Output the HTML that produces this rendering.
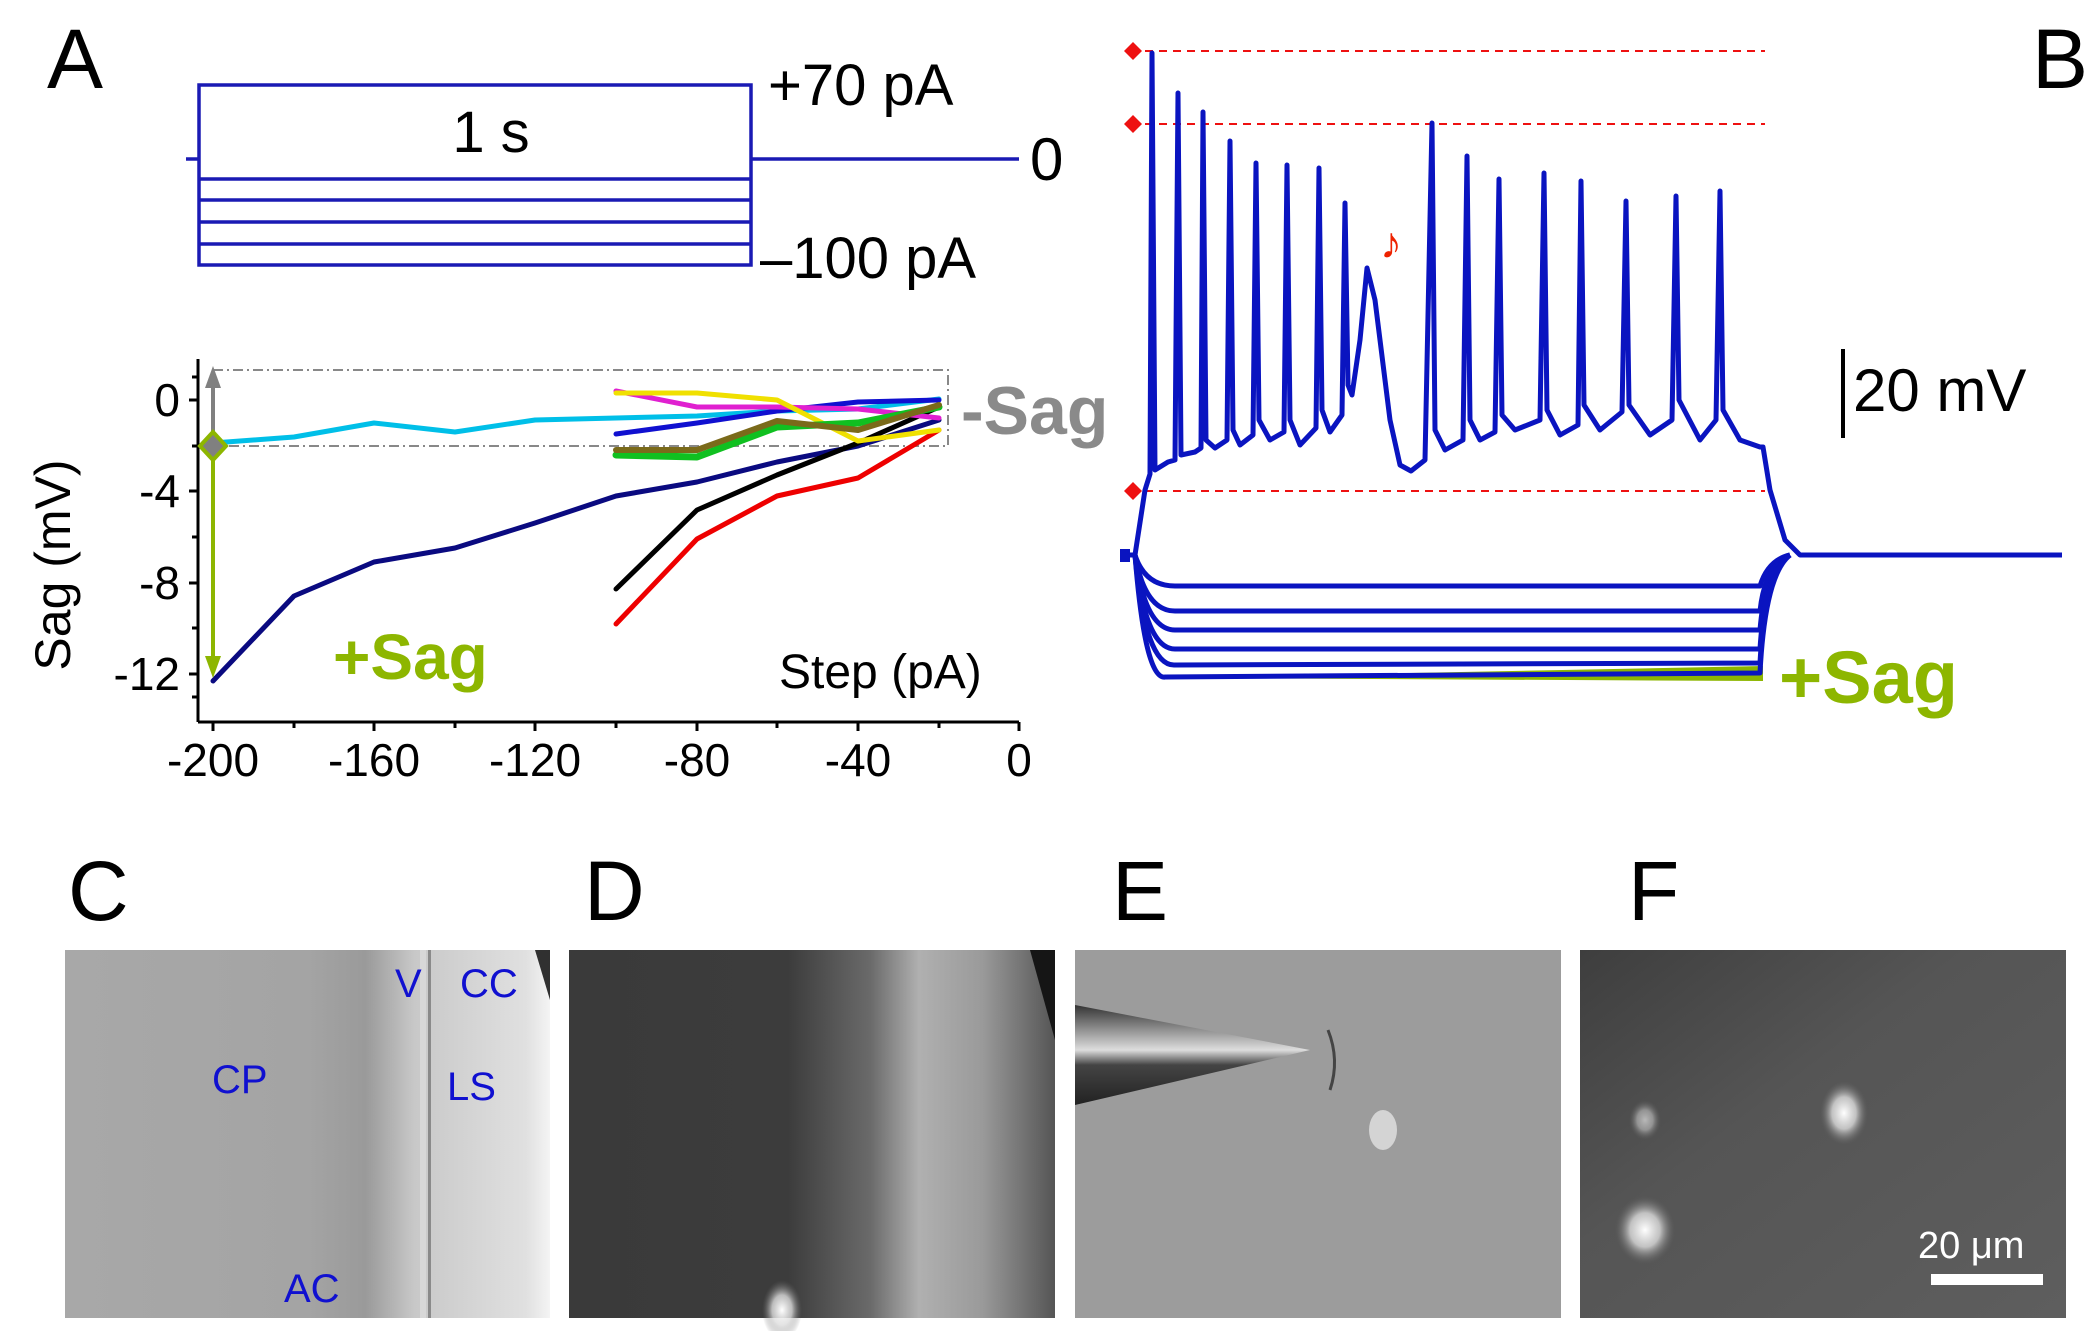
<!DOCTYPE html>
<html><head><meta charset="utf-8"><style>
html,body{margin:0;padding:0;background:#fff}
svg{display:block}
text{font-family:"Liberation Sans",Arial,sans-serif}
</style></head><body>
<svg width="2100" height="1331" viewBox="0 0 2100 1331" xmlns="http://www.w3.org/2000/svg">
<defs>
<linearGradient id="gC" x1="0" x2="1" y1="0" y2="0">
<stop offset="0" stop-color="#a8a8a8"/><stop offset="0.5" stop-color="#a4a4a4"/><stop offset="0.62" stop-color="#9a9a9a"/><stop offset="0.72" stop-color="#c8c8c8"/><stop offset="0.95" stop-color="#e0e0e0"/><stop offset="1" stop-color="#f4f4f4"/>
</linearGradient>
<linearGradient id="gD" x1="0" x2="1" y1="0" y2="0">
<stop offset="0" stop-color="#3a3a3a"/><stop offset="0.45" stop-color="#3c3c3c"/><stop offset="0.62" stop-color="#6a6a6a"/><stop offset="0.72" stop-color="#b0b0b0"/><stop offset="0.85" stop-color="#9a9a9a"/><stop offset="1" stop-color="#555"/>
</linearGradient>
<radialGradient id="spot"><stop offset="0" stop-color="#fff"/><stop offset="0.5" stop-color="#ddd" stop-opacity="0.8"/><stop offset="1" stop-color="#666" stop-opacity="0"/></radialGradient>
<linearGradient id="pip" x1="0" x2="0" y1="0" y2="1">
<stop offset="0" stop-color="#333"/><stop offset="0.45" stop-color="#ddd"/><stop offset="0.6" stop-color="#444"/><stop offset="1" stop-color="#222"/>
</linearGradient>
<linearGradient id="gF" x1="0" x2="1" y1="0" y2="1">
<stop offset="0" stop-color="#3e3e3e"/><stop offset="0.4" stop-color="#555"/><stop offset="1" stop-color="#5e5e5e"/>
</linearGradient>
</defs>

<text x="47" y="88" font-size="84">A</text>
<g stroke="#1a1ab4" stroke-width="3.5" fill="none">
<line x1="186" y1="159" x2="199" y2="159"/>
<rect x="199" y="85" width="552" height="180"/>
<line x1="751" y1="159" x2="1019" y2="159"/>
<line x1="199" y1="179" x2="751" y2="179"/>
<line x1="199" y1="200" x2="751" y2="200"/>
<line x1="199" y1="222" x2="751" y2="222"/>
<line x1="199" y1="244" x2="751" y2="244"/>
</g>
<text x="491" y="152" font-size="58" text-anchor="middle">1 s</text>
<text x="768" y="105" font-size="58">+70 pA</text>
<text x="1030" y="180" font-size="60">0</text>
<text x="760" y="278" font-size="58">–100 pA</text>

<g stroke="#000" stroke-width="3" fill="none">
<line x1="198" y1="359" x2="198" y2="722"/>
<line x1="198" y1="722" x2="1019" y2="722"/>
<line x1="213" y1="722" x2="213" y2="731"/><line x1="294" y1="722" x2="294" y2="728"/>
<line x1="374" y1="722" x2="374" y2="731"/><line x1="455" y1="722" x2="455" y2="728"/>
<line x1="535" y1="722" x2="535" y2="731"/><line x1="616" y1="722" x2="616" y2="728"/>
<line x1="697" y1="722" x2="697" y2="731"/><line x1="777" y1="722" x2="777" y2="728"/>
<line x1="858" y1="722" x2="858" y2="731"/><line x1="939" y1="722" x2="939" y2="728"/>
<line x1="1019" y1="722" x2="1019" y2="731"/>
<line x1="189" y1="400" x2="198" y2="400"/><line x1="192" y1="446" x2="198" y2="446"/>
<line x1="189" y1="491" x2="198" y2="491"/><line x1="192" y1="537" x2="198" y2="537"/>
<line x1="189" y1="583" x2="198" y2="583"/><line x1="192" y1="628" x2="198" y2="628"/>
<line x1="189" y1="674" x2="198" y2="674"/><line x1="192" y1="377" x2="198" y2="377"/><line x1="192" y1="697" x2="198" y2="697"/>
</g>
<g font-size="46" text-anchor="middle">
<text x="213" y="776">-200</text><text x="374" y="776">-160</text><text x="535" y="776">-120</text>
<text x="697" y="776">-80</text><text x="858" y="776">-40</text><text x="1019" y="776">0</text>
</g>
<g font-size="46" text-anchor="end">
<text x="180" y="416">0</text><text x="180" y="507">-4</text><text x="180" y="599">-8</text><text x="180" y="690">-12</text>
</g>
<text transform="translate(70,565) rotate(-90)" font-size="50" text-anchor="middle">Sag (mV)</text>
<text x="779" y="688" font-size="48">Step (pA)</text>
<rect x="213" y="370" width="735" height="76" fill="none" stroke="#888" stroke-width="2" stroke-dasharray="10,4,2,4"/>

<g fill="none" stroke-width="5" stroke-linejoin="round" stroke-linecap="round">
<polyline stroke="#00bfe8" points="213,443 294,437 374,423 455,432 535,420 616,418 697,416 777,411 858,409 939,399"/>
<polyline stroke="#0a0a80" points="213,681 294,596 374,562 455,548 535,523 616,496 697,482 777,462 858,446 939,420"/>
<polyline stroke="#000" points="616,589 697,510 777,475 858,443 939,407"/>
<polyline stroke="#ee0000" points="616,624 697,539 777,496 858,478 939,430"/>
<polyline stroke="#1010d0" points="616,434 697,423 777,411 858,402 939,400"/>
<polyline stroke="#e020d0" points="616,391 697,407 777,407 858,409 939,418"/>
<polyline stroke="#f0e000" points="616,393 697,393 777,400 858,441 939,430"/>
<polyline stroke="#10c020" stroke-width="7" points="616,455 697,457 777,427 858,423 939,407"/>
<polyline stroke="#7a6a1a" stroke-width="6" points="616,450 697,450 777,421 858,430 939,405"/>
</g>
<line x1="213" y1="446" x2="213" y2="382" stroke="#808080" stroke-width="4"/>
<polygon points="205,388 221,388 213,366" fill="#808080"/>
<line x1="213" y1="446" x2="213" y2="660" stroke="#8db600" stroke-width="4"/>
<polygon points="205,656 221,656 213,678" fill="#8db600"/>
<polygon points="213,432 226,446 213,460 200,446" fill="#808080" stroke="#8db600" stroke-width="4"/>
<text x="961" y="434" font-size="68" font-weight="bold" fill="#8a8a8a">-Sag</text>
<text x="333" y="679" font-size="64" font-weight="bold" fill="#8db600">+Sag</text>

<text x="2032" y="88" font-size="84">B</text>
<g stroke="#ee1111" stroke-width="2" stroke-dasharray="8,6">
<line x1="1145" y1="51" x2="1765" y2="51"/>
<line x1="1145" y1="124" x2="1765" y2="124"/>
<line x1="1145" y1="491" x2="1765" y2="491"/>
</g>
<g fill="#ee1111">
<polygon points="1133,42 1142,51 1133,60 1124,51"/>
<polygon points="1133,115 1142,124 1133,133 1124,124"/>
<polygon points="1133,482 1142,491 1133,500 1124,491"/>
</g>
<text x="1380" y="258" font-size="44" fill="#ee2200">♪</text>
<polygon points="1160,678 1763,666 1763,681" fill="#8db600"/>
<g fill="none" stroke="#0a14c0" stroke-width="5" stroke-linejoin="round">
<polyline points="1122,555 1135,555 1145,490 1150,474 1152,53 1155,470 1168,462 1175,460 1178,93 1181,455 1195,452 1201,448 1203,112 1206,440 1215,448 1227,440 1230,141 1233,430 1240,445 1253,435 1256,163 1259,420 1270,440 1284,432 1287,165 1290,420 1300,445 1316,428 1319,168 1322,410 1330,432 1342,415 1345,203 1348,385 1352,395 1360,340 1367,268 1375,300 1390,420 1400,465 1411,471 1425,460 1432,123 1435,430 1445,450 1463,440 1467,156 1470,420 1480,440 1495,432 1499,179 1502,415 1515,430 1540,420 1544,173 1547,410 1560,435 1578,425 1581,181 1584,405 1600,430 1622,412 1626,201 1629,405 1650,435 1672,420 1676,196 1679,400 1700,440 1716,420 1720,191 1723,410 1740,440 1760,447 1763,447 1770,490 1785,540 1800,555 2062,555"/>
<path d="M1135,555 Q1145,586 1175,586 L1760,586 Q1768,560 1790,555"/>
<path d="M1135,555 Q1145,611 1175,611 L1760,611 Q1765,565 1790,555"/>
<path d="M1135,555 Q1145,630 1175,630 L1760,630 Q1765,568 1790,555"/>
<path d="M1135,555 Q1145,649 1175,649 L1760,649 Q1765,570 1790,555"/>
<path d="M1135,555 Q1145,667 1175,665 L1760,663 Q1765,572 1790,555"/>
<path d="M1135,555 Q1145,680 1165,677 L1760,673 Q1765,575 1790,555"/>
</g>
<rect x="1120" y="549" width="10" height="13" fill="#0a14c0"/>
<line x1="1843" y1="349" x2="1843" y2="438" stroke="#000" stroke-width="4"/>
<text x="1853" y="411" font-size="60">20 mV</text>
<text x="1779" y="703" font-size="74" font-weight="bold" fill="#8db600">+Sag</text>

<g font-size="84">
<text x="68" y="920">C</text><text x="584" y="920">D</text><text x="1112" y="920">E</text><text x="1628" y="920">F</text>
</g>

<rect x="65" y="950" width="485" height="368" fill="url(#gC)"/>
<rect x="420" y="950" width="6" height="368" fill="#d8d8d8"/>
<rect x="428" y="950" width="3" height="368" fill="#8a8a8a"/>
<polygon points="535,950 550,950 550,1000" fill="#303030"/>
<g fill="#1010d0" font-size="40">
<text x="395" y="997">V</text><text x="460" y="997">CC</text>
<text x="212" y="1093">CP</text><text x="447" y="1100">LS</text><text x="284" y="1302">AC</text>
</g>

<rect x="569" y="950" width="486" height="368" fill="url(#gD)"/>
<polygon points="1030,950 1055,950 1055,1040" fill="#151515"/>
<ellipse cx="782" cy="1310" rx="20" ry="30" fill="url(#spot)"/>

<rect x="1075" y="950" width="486" height="368" fill="#9c9c9c"/>
<polygon points="1075,1005 1310,1050 1075,1105" fill="url(#pip)"/>
<ellipse cx="1383" cy="1130" rx="14" ry="20" fill="#d4d4d4"/>
<path d="M1328,1030 Q1340,1060 1330,1090" stroke="#444" stroke-width="3" fill="none"/>

<rect x="1580" y="950" width="486" height="368" fill="url(#gF)"/>
<ellipse cx="1844" cy="1113" rx="24" ry="32" fill="url(#spot)"/>
<ellipse cx="1645" cy="1230" rx="30" ry="34" fill="url(#spot)"/>
<ellipse cx="1645" cy="1120" rx="16" ry="20" fill="url(#spot)" opacity="0.6"/>
<rect x="1931" y="1274" width="112" height="11" fill="#fff"/>
<text x="1918" y="1258" font-size="38" fill="#fff">20 μm</text>
</svg>
</body></html>
